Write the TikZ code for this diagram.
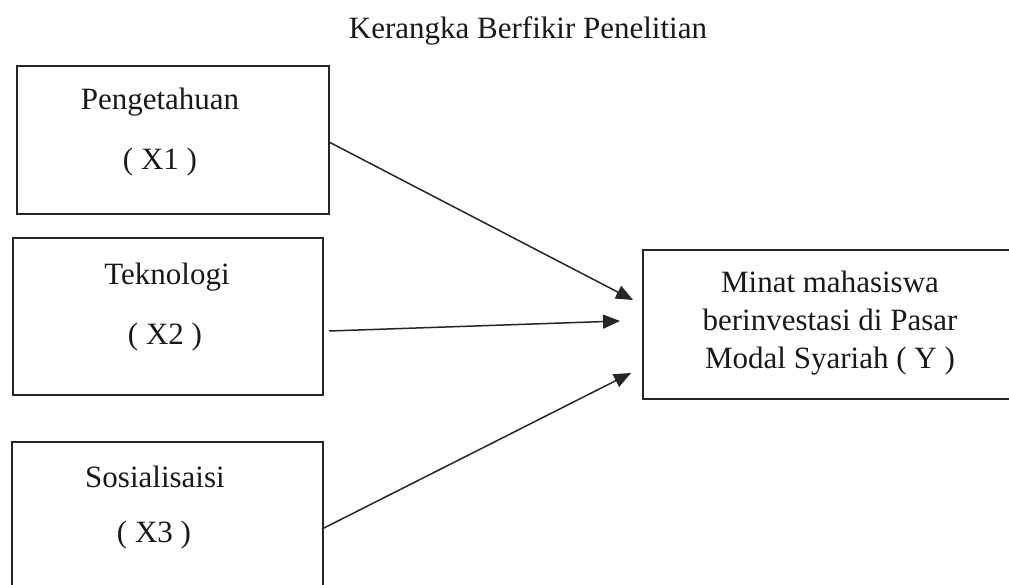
\documentclass[tikz,border=0pt]{standalone}
\usepackage{fontspec}
\setmainfont{Liberation Serif}
\usetikzlibrary{arrows.meta}
\begin{document}
\begin{tikzpicture}[x=1pt,y=-1pt,
  box/.style={draw=black!85,line width=2pt,rectangle,inner sep=0pt,anchor=north west},
  lbl/.style={inner sep=0pt,font=\fontsize{31}{38}\selectfont,text=black!90},
  conn/.style={line width=1.5pt,draw=black!85,-{Triangle[length=17pt,width=14pt]}}]
\useasboundingbox (0,0) rectangle (1009,585);
\clip (0,0) rectangle (1009,585);
\node[lbl] (title) at (528,31) {Kerangka Berfikir Penelitian};
% boxes
\node[box,minimum width=312pt,minimum height=148pt] (b1) at (16,65) {};
\node[box,minimum width=310pt,minimum height=157pt] (b2) at (12,237) {};
\node[box,minimum width=311pt,minimum height=170pt] (b3) at (11,441) {};
\node[box,minimum width=400pt,minimum height=149pt] (by) at (642,249) {};
% labels
\node[lbl] (t1) at (160,102) {Pengetahuan};
\node[lbl] (x1) at (160,162) {( X1 )};
\node[lbl] (t2) at (167,277) {Teknologi};
\node[lbl] (x2) at (165,337) {( X2 )};
\node[lbl] (t3) at (155,477) {Sosialisaisi};
\node[lbl] (x3) at (154,535) {( X3 )};
\node[lbl,align=center] (ty) at (830,323) {Minat mahasiswa\\berinvestasi di Pasar\\Modal Syariah ( Y )};
% connector ends
\coordinate (s1) at (329,142);
\coordinate (e1) at (633,300);
\coordinate (s2) at (329,331);
\coordinate (e2) at (620,321);
\coordinate (s3) at (322,529);
\coordinate (e3) at (631,373);
\draw[conn] (s1) -- (e1);
\draw[conn] (s2) -- (e2);
\draw[conn] (s3) -- (e3);
\end{tikzpicture}
\end{document}
